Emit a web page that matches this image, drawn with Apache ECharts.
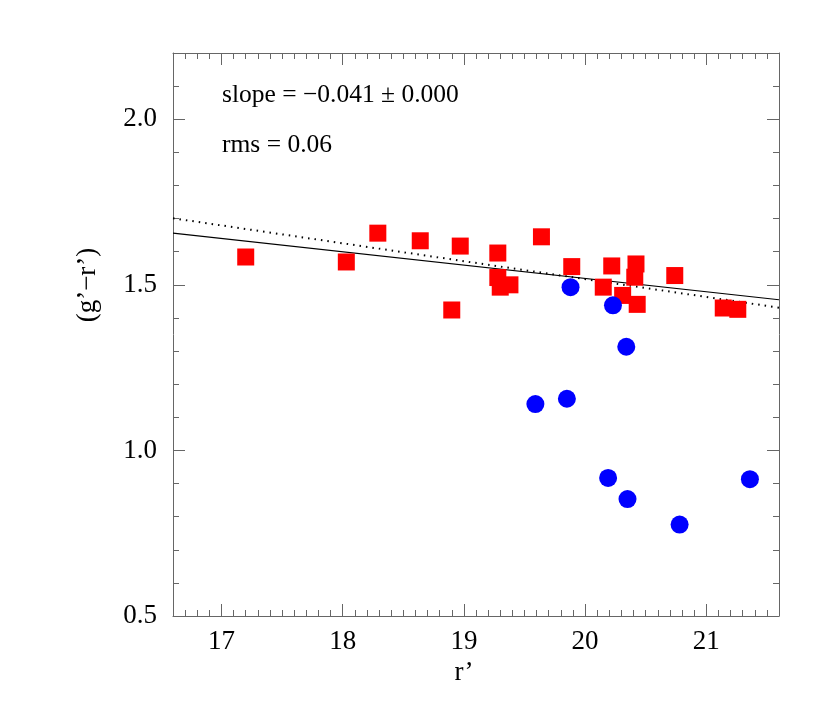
<!DOCTYPE html>
<html>
<head>
<meta charset="utf-8">
<script src="https://cdn.jsdelivr.net/npm/echarts@6/dist/echarts.min.js"></script>
<style>html,body{margin:0;padding:0;background:#fff}#c{width:830px;height:726px}</style>
</head>
<body>
<div id="c"></div>
<script>
// ---- data ----
const redX = [17.20, 18.03, 18.29, 18.64, 18.90, 18.97, 19.28, 19.28, 19.30, 19.38, 19.64, 19.89, 20.15, 20.22, 20.31, 20.41, 20.42, 20.43, 20.74, 21.14, 21.26];
const redY = [1.584, 1.569, 1.656, 1.633, 1.424, 1.617, 1.596, 1.522, 1.493, 1.500, 1.645, 1.555, 1.493, 1.557, 1.468, 1.523, 1.563, 1.441, 1.528, 1.430, 1.426];
const blueX = [19.59, 19.85, 19.88, 20.19, 20.23, 20.34, 20.35, 20.78, 21.36];
const blueY = [1.140, 1.156, 1.493, 0.917, 1.438, 1.313, 0.853, 0.776, 0.913];
const fitX = [16.6, 21.6];
const fitSolidY = [1.656, 1.455];
const fitDottedY = [1.701, 1.431];
const xRange = [16.6, 21.6];
const yRange = [0.5, 2.2];
const xMajorRange = [17, 21];
const yMajorRange = [0.5, 2.0];
const annotation = ['slope = \u22120.041 \u00b1 0.000', 'rms = 0.06'];
const xTitle = 'r\u2019';
const yTitle = '(g\u2019\u2212r\u2019)';

const FONT = 'Liberation Serif';
const frameColor = '#666';
const zip = (a, b) => a.map((v, i) => [v, b[i]]);

const L = 173, T = 53, W = 606, H = 563;
const pxX = W / (xRange[1] - xRange[0]);
const pxY = H / (yRange[1] - yRange[0]);

const minorX = (pos) => ({
  gridIndex: 0, type: 'value', position: pos, min: xRange[0], max: xRange[1], interval: 0.1,
  axisLine: { show: true, onZero: false, lineStyle: { color: frameColor, width: 1 } },
  axisTick: { show: true, inside: true, length: 6, lineStyle: { color: frameColor } },
  axisLabel: { show: false }, splitLine: { show: false }
});
const minorY = (pos) => ({
  gridIndex: 0, type: 'value', position: pos, min: yRange[0], max: yRange[1], interval: 0.1,
  axisLine: { show: true, onZero: false, lineStyle: { color: frameColor, width: 1 } },
  axisTick: { show: true, inside: true, length: 6, lineStyle: { color: frameColor } },
  axisLabel: { show: false }, splitLine: { show: false }
});
const majorX = (pos, labels) => ({
  gridIndex: 1, type: 'value', position: pos, min: xMajorRange[0], max: xMajorRange[1], interval: 1,
  axisLine: { show: false, onZero: false },
  axisTick: { show: true, inside: true, length: 12, lineStyle: { color: frameColor } },
  axisLabel: { show: labels, margin: 12, color: '#000', fontFamily: FONT, fontSize: 27 },
  splitLine: { show: false },
  name: labels ? xTitle : '', nameLocation: 'middle', nameGap: 22,
  nameTextStyle: { color: '#000', fontFamily: FONT, fontSize: 27 }
});
const majorY = (pos, labels) => ({
  gridIndex: 2, type: 'value', position: pos, min: yMajorRange[0], max: yMajorRange[1], interval: 0.5,
  axisLine: { show: false, onZero: false },
  axisTick: { show: true, inside: true, length: 12, lineStyle: { color: frameColor } },
  axisLabel: { show: labels, margin: 16, color: '#000', fontFamily: FONT, fontSize: 27,
    formatter: v => v.toFixed(1) },
  splitLine: { show: false }
});

const option = {
  animation: false,
  backgroundColor: '#fff',
  grid: [
    { left: L, top: T, width: W, height: H },
    { left: L + (xMajorRange[0] - xRange[0]) * pxX, top: T, width: (xMajorRange[1] - xMajorRange[0]) * pxX, height: H },
    { left: L, top: T + (yRange[1] - yMajorRange[1]) * pxY, width: W, height: (yMajorRange[1] - yMajorRange[0]) * pxY }
  ],
  xAxis: [
    minorX('bottom'), minorX('top'),
    majorX('bottom', true), majorX('top', false),
    { gridIndex: 2, type: 'value', min: xRange[0], max: xRange[1], show: false }
  ],
  yAxis: [
    minorY('left'), minorY('right'),
    { gridIndex: 1, type: 'value', min: yRange[0], max: yRange[1], show: false },
    majorY('left', true), majorY('right', false)
  ],
  graphic: [
    { type: 'text', left: 222, top: 82, style: { text: annotation[0], font: '25.5px "Liberation Serif"', fill: '#000' } },
    { type: 'text', left: 222, top: 132, style: { text: annotation[1], font: '25.5px "Liberation Serif"', fill: '#000' } },
    { type: 'text', rotation: Math.PI / 2, x: 88, y: 285, style: { text: yTitle, font: '27px "Liberation Serif"', fill: '#000', align: 'center', verticalAlign: 'middle' } }
  ],
  series: [
    { type: 'line', xAxisIndex: 0, yAxisIndex: 0, data: zip(fitX, fitSolidY), showSymbol: false, symbol: 'none',
      lineStyle: { color: '#000', width: 1.2, type: 'solid' }, z: 2 },
    { type: 'line', xAxisIndex: 0, yAxisIndex: 0, data: zip(fitX, fitDottedY), showSymbol: false, symbol: 'none',
      lineStyle: { color: '#000', width: 2, type: [1.5, 5] }, z: 2 },
    { type: 'scatter', xAxisIndex: 0, yAxisIndex: 0, data: zip(redX, redY), symbol: 'rect', symbolSize: 17,
      itemStyle: { color: '#ff0000', opacity: 1 }, z: 3 },
    { type: 'scatter', xAxisIndex: 0, yAxisIndex: 0, data: zip(blueX, blueY), symbol: 'circle', symbolSize: 18,
      itemStyle: { color: '#0000ff', opacity: 1 }, z: 3 }
  ]
};
const chart = echarts.init(document.getElementById('c'), null, { renderer: 'canvas' });
chart.setOption(option);
</script>
</body>
</html>
